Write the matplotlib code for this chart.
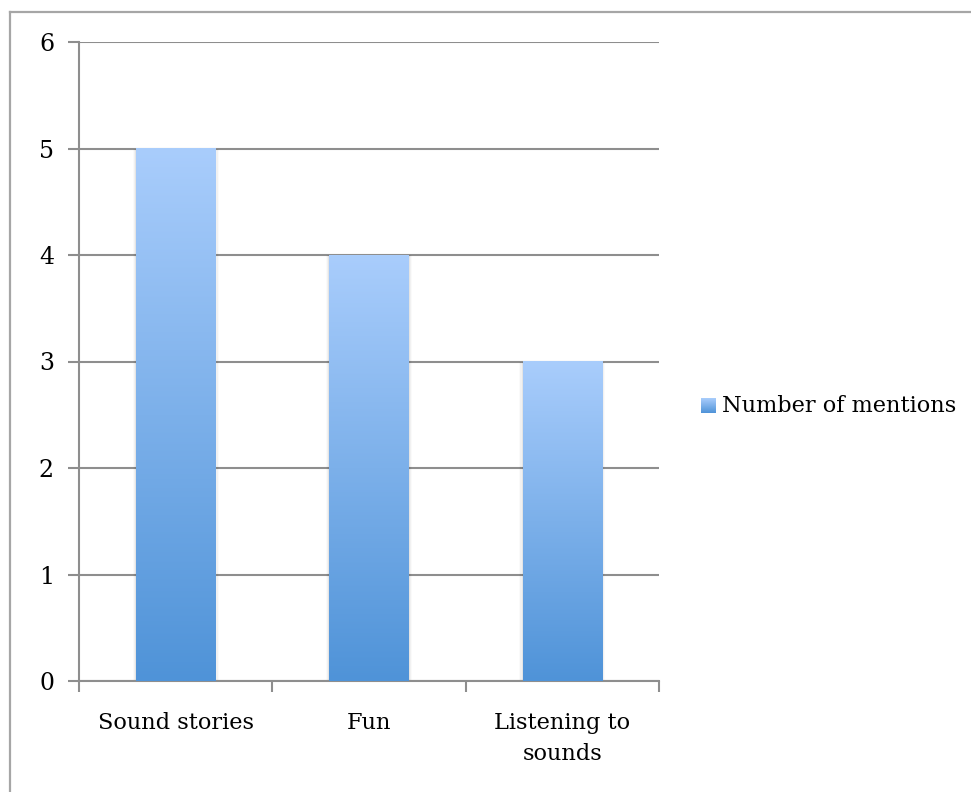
import numpy as np
import matplotlib
matplotlib.use("Agg")
import matplotlib.pyplot as plt
from matplotlib.colors import LinearSegmentedColormap
from matplotlib.lines import Line2D
from matplotlib.patches import Rectangle

categories = ["Sound stories", "Fun", "Listening to\nsounds"]
mentions = [5, 4, 3]
series_name = "Number of mentions"
y_ticks = [0, 1, 2, 3, 4, 5, 6]

W, H = 971, 792
DPI = 100
plt.rcParams["font.family"] = ["DejaVu Serif"]
FS = 16.2
GRID = "#8e8e8e"

fig = plt.figure(figsize=(W / DPI, H / DPI), dpi=DPI)
fig.patch.set_facecolor("white")

# outer chart border (top and left edges visible)
fig.add_artist(Line2D([10 / W, 10 / W], [0, 1 - 12 / H], transform=fig.transFigure,
                      color="#a6a6a6", lw=1.6))
fig.add_artist(Line2D([10 / W, 1], [1 - 12 / H, 1 - 12 / H], transform=fig.transFigure,
                      color="#a6a6a6", lw=1.6))

left, right, top, bottom = 79, 659, 42, 681
ax = fig.add_axes([left / W, 1 - bottom / H, (right - left) / W, (bottom - top) / H])

x = np.arange(1, len(categories) + 1)

cmap = LinearSegmentedColormap.from_list("barfill", ["#4f93d8", "#a9cdfc"])
grad = np.linspace(0, 1, 256).reshape(-1, 1)
bar_w = 0.41
for xi, v in zip(x, mentions):
    x0, x1 = xi - bar_w / 2, xi + bar_w / 2
    # soft shadow around the bar
    for k, a in enumerate([0.05, 0.035, 0.02]):
        d = 0.006 * (k + 1)
        ax.add_patch(Rectangle((x0 - d, 0), bar_w + 2 * d, v, facecolor="black",
                               alpha=a, lw=0, zorder=2))
    ax.imshow(grad, extent=(x0, x1, 0, v), origin="lower", cmap=cmap,
              aspect="auto", zorder=3, interpolation="bilinear")
ax.set_xlim(0.5, len(categories) + 0.5)
ax.set_ylim(0, 6)

ax.set_yticks(y_ticks)
ax.set_yticklabels([str(t) for t in y_ticks])
ax.yaxis.grid(True, color=GRID, lw=1.5)
ax.set_axisbelow(True)

ax.set_xticks(np.arange(0.5, len(categories) + 1, 1))
ax.set_xticklabels([])
ax.set_xticks(x, minor=True)
ax.set_xticklabels(categories, minor=True, fontsize=FS, linespacing=1.55)
ax.tick_params(axis="x", which="minor", length=0, pad=22)
ax.tick_params(axis="x", which="major", direction="out", length=8, width=1.5, color=GRID)
ax.tick_params(axis="y", direction="out", length=8, width=1.5, color=GRID,
               labelsize=FS + 0.8, pad=10)
for lbl in ax.get_xticklabels(minor=True):
    lbl.set_verticalalignment("top")
    lbl.set_horizontalalignment("center")

for s in ["top", "right"]:
    ax.spines[s].set_visible(False)
for s in ["left", "bottom"]:
    ax.spines[s].set_color(GRID)
    ax.spines[s].set_linewidth(1.5)

# legend
lx, ly = 701, 398
lax = fig.add_axes([lx / W, 1 - (ly + 15) / H, 15 / W, 15 / H])
lax.imshow(grad, extent=(0, 1, 0, 1), origin="lower", cmap=cmap, aspect="auto")
lax.axis("off")
fig.text(722 / W, 1 - 406 / H, series_name, fontsize=FS, va="center", ha="left")

fig.savefig("out.png", dpi=DPI, facecolor="white")
